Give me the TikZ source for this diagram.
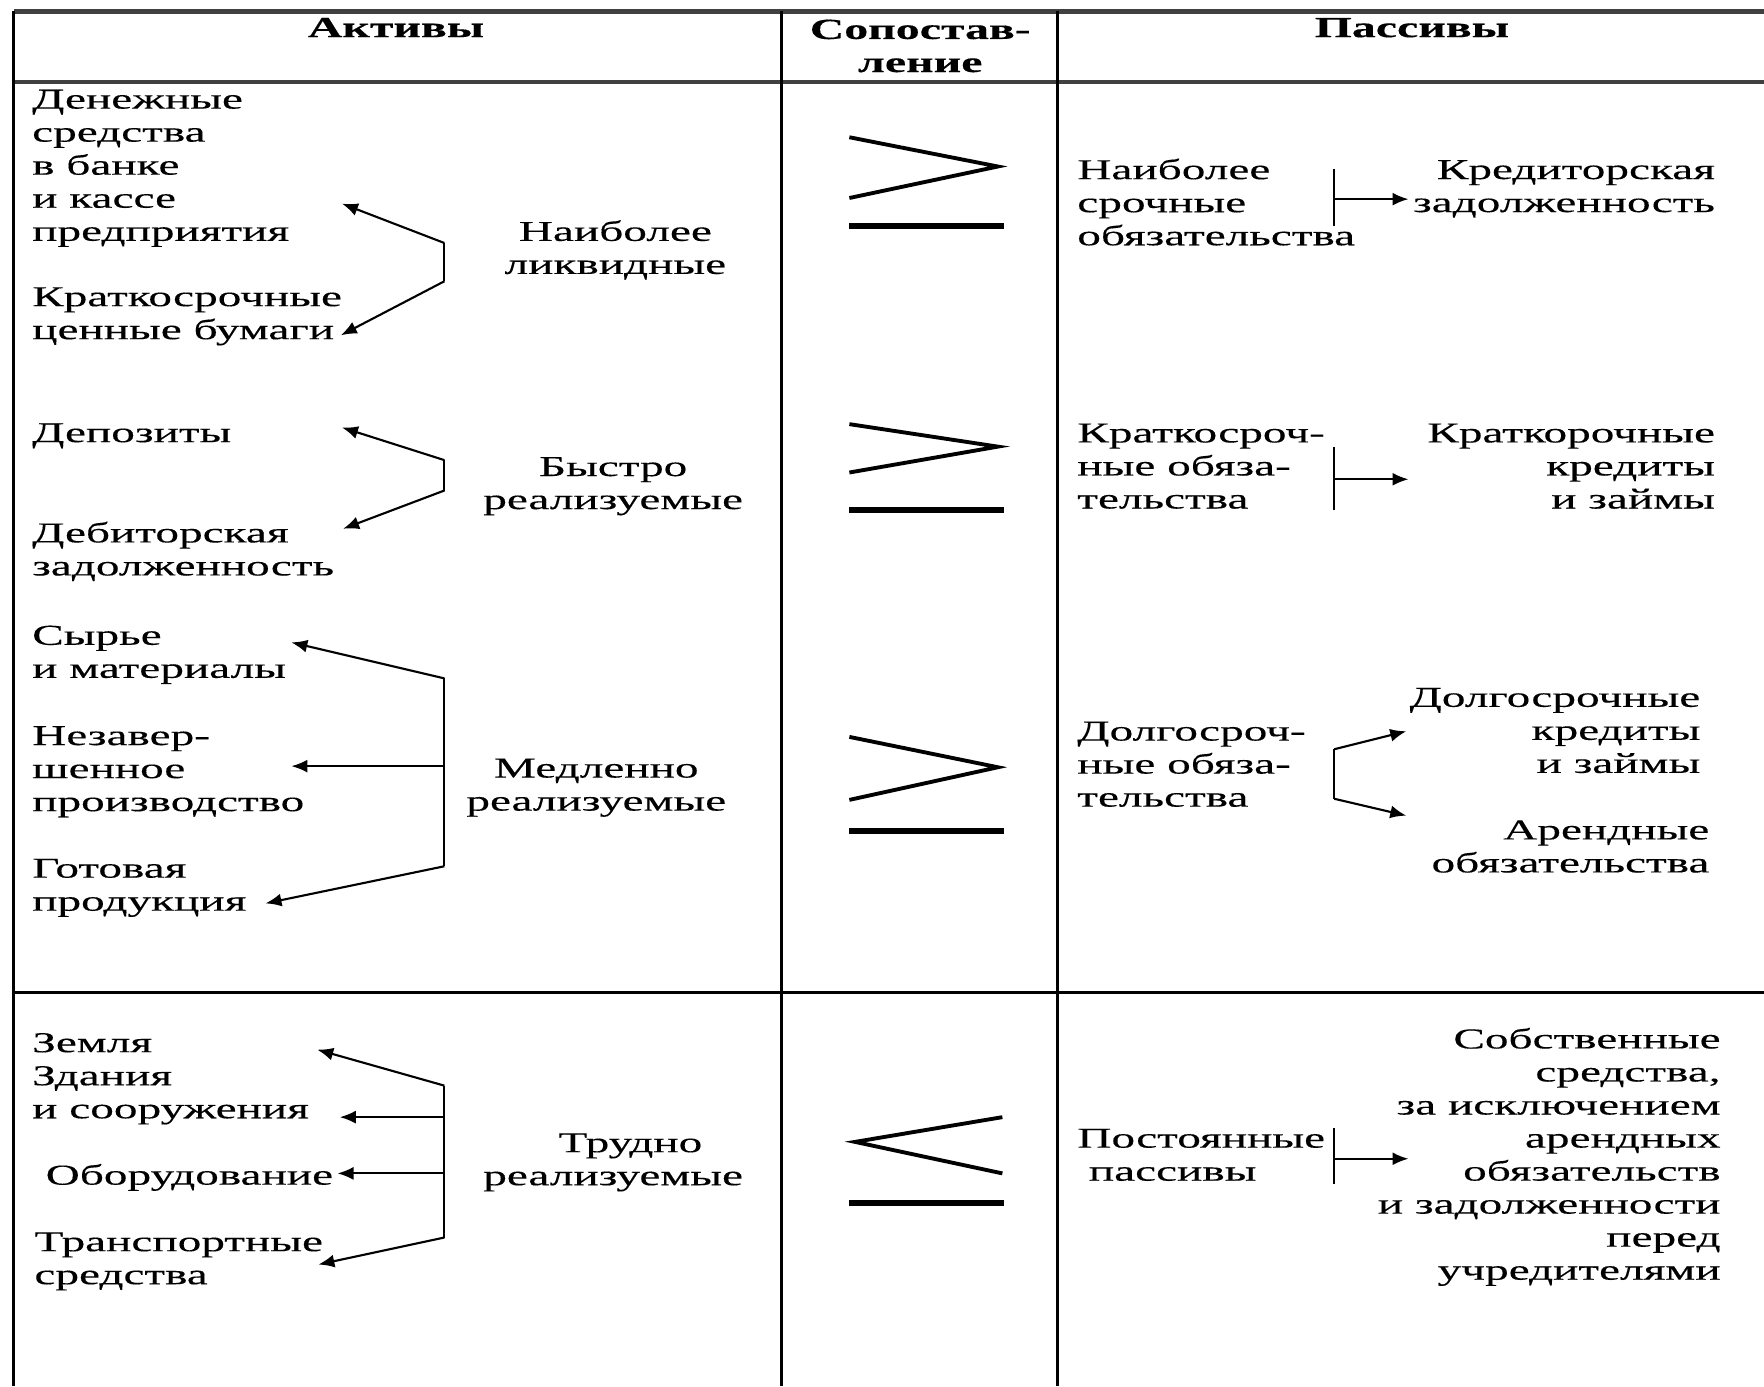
\documentclass[tikz,border=0pt]{standalone}
\usepackage{fontspec}
\setmainfont{Liberation Serif}[FakeStretch=1.64,FakeBold=0.3]
\usetikzlibrary{arrows.meta}
\begin{document}
\begin{tikzpicture}[x=0.1125mm,y=-0.1125mm,
    txt/.style={inner sep=0pt,font=\fontsize{8.2}{9.4}\selectfont},
    lft/.style={txt,align=left,anchor=base west},
    rgt/.style={txt,align=right,anchor=base east},
    mid/.style={txt,align=center,anchor=base},
    head/.style={mid,font=\fontsize{8.3}{9.4}\selectfont\bfseries},
    tabline/.style={line width=0.8pt},
    arr/.style={line width=0.6pt,-{Latex[length=1.6mm,width=1.3mm]}},
    brk/.style={line width=0.6pt},
    rel/.style={line width=1.1pt},
    eqbar/.style={line width=1.7pt}]
\useasboundingbox (0,0) rectangle (1568,1232);
% table
\draw[tabline,line width=1.3pt,black!75] (12,10) -- (1568,10);
\draw[tabline,line width=1.3pt,black!75] (12,73) -- (1568,73);
\draw[tabline] (12,882) -- (1568,882);
\draw[tabline] (12,10) -- (12,1232);
\draw[tabline] (695,10) -- (695,1232);
\draw[tabline] (940,10) -- (940,1232);
\node[head] (hact) at (352,33) {Активы};
\node[head] (hcmp) at (818,64) {Сопостав-\\ление};
\node[head] (hpas) at (1255,33) {Пассивы};
% assets
\node[lft] (den) at (28,214) {Денежные\\средства\\в банке\\и кассе\\предприятия};
\node[lft] (kfv) at (28,301.5) {Краткосрочные\\ценные бумаги};
\node[mid] (liq) at (547,243.5) {Наиболее\\ликвидные};
\coordinate (l1t) at (395,216);
\coordinate (l1b) at (395,250);
\coordinate (a1t) at (304,181);
\coordinate (a1b) at (303,298);
\draw[brk] (l1t) -- (l1b);
\draw[arr] (l1t) -- (a1t);
\draw[arr] (l1b) -- (a1b);
\node[lft] (dep) at (28,393) {Депозиты};
\node[lft] (deb) at (28,511.5) {Дебиторская\\задолженность};
\node[mid] (bys) at (545,452.5) {Быстро\\реализуемые};
\coordinate (l2t) at (395,409);
\coordinate (l2b) at (395,436);
\coordinate (a2t) at (304,380);
\coordinate (a2b) at (305,470);
\draw[brk] (l2t) -- (l2b);
\draw[arr] (l2t) -- (a2t);
\draw[arr] (l2b) -- (a2b);
\node[lft] (syr) at (28,602.5) {Сырье\\и материалы};
\node[lft] (nez) at (28,721) {Незавер-\\шенное\\производство};
\node[lft] (got) at (28,809.5) {Готовая\\продукция};
\node[mid] (med) at (530,720.5) {Медленно\\реализуемые};
\coordinate (l3t) at (395,603);
\coordinate (l3m) at (395,681);
\coordinate (l3b) at (395,770);
\coordinate (a3t) at (259,571);
\coordinate (a3m) at (259,681);
\coordinate (a3b) at (236,803);
\draw[brk] (l3t) -- (l3b);
\draw[arr] (l3t) -- (a3t);
\draw[arr] (l3m) -- (a3m);
\draw[arr] (l3b) -- (a3b);
\node[lft] (zem) at (28,994) {Земля\\Здания\\и сооружения};
\node[lft] (obo) at (40,1053) {Оборудование};
\node[lft] (trn) at (30,1141.5) {Транспортные\\средства};
\node[mid] (tru) at (545,1053.5) {\hspace*{1.2em}Трудно\\реализуемые};
\coordinate (l4t) at (395,965);
\coordinate (l4a) at (395,993);
\coordinate (l4c) at (395,1043);
\coordinate (l4b) at (395,1100);
\coordinate (a4t) at (282,933);
\coordinate (a4a) at (302,993);
\coordinate (a4c) at (300,1043);
\coordinate (a4b) at (283,1124);
\draw[brk] (l4t) -- (l4b);
\draw[arr] (l4t) -- (a4t);
\draw[arr] (l4a) -- (a4a);
\draw[arr] (l4c) -- (a4c);
\draw[arr] (l4b) -- (a4b);
% comparison
\draw[rel] (755,122) -- (887,148) -- (755,176);
\draw[eqbar] (755,201) -- (892,201);
\draw[rel] (755,377) -- (887,397) -- (755,420);
\draw[eqbar] (755,453) -- (892,453);
\draw[rel] (755,655) -- (887,682) -- (755,711);
\draw[eqbar] (755,739) -- (892,739);
\draw[rel] (891,993) -- (760,1015) -- (891,1043);
\draw[eqbar] (755,1069) -- (892,1069);
% liabilities
\node[lft] (nso) at (957,218) {Наиболее\\срочные\\обязательства};
\node[rgt] (krz) at (1525,188.5) {Кредиторская\\задолженность};
\coordinate (r1t) at (1186,150);
\coordinate (r1b) at (1186,201);
\coordinate (r1m) at (1186,177);
\coordinate (b1) at (1252,177);
\draw[brk] (r1t) -- (r1b);
\draw[arr] (r1m) -- (b1);
\node[lft] (kso) at (957,452) {Краткосроч-\\ные обяза-\\тельства};
\node[rgt] (kkz) at (1525,452) {Краткорочные\\кредиты\\и займы};
\coordinate (r2t) at (1186,397);
\coordinate (r2b) at (1186,453);
\coordinate (r2m) at (1186,426);
\coordinate (b2) at (1252,426);
\draw[brk] (r2t) -- (r2b);
\draw[arr] (r2m) -- (b2);
\node[lft] (dso) at (957,717) {Долгосроч-\\ные обяза-\\тельства};
\node[rgt] (dkz) at (1512,687) {Долгосрочные\\кредиты\\и займы};
\node[rgt] (aro) at (1520,775.5) {Арендные\\обязательства};
\coordinate (r3t) at (1186,666);
\coordinate (r3b) at (1186,710);
\coordinate (b3t) at (1250,650);
\coordinate (b3b) at (1250,725);
\draw[brk] (r3t) -- (r3b);
\draw[arr] (r3t) -- (b3t);
\draw[arr] (r3b) -- (b3b);
\node[lft] (pps) at (957,1049.5) {Постоянные\\\hspace*{0.4em}пассивы};
\node[rgt] (sob) at (1530,1137.5) {Собственные\\средства,\\за исключением\\арендных\\обязательств\\и задолженности\\перед\\учредителями};
\coordinate (r4t) at (1186,1003);
\coordinate (r4b) at (1186,1052);
\coordinate (r4m) at (1186,1030);
\coordinate (b4) at (1252,1030);
\draw[brk] (r4t) -- (r4b);
\draw[arr] (r4m) -- (b4);
\end{tikzpicture}
\end{document}
